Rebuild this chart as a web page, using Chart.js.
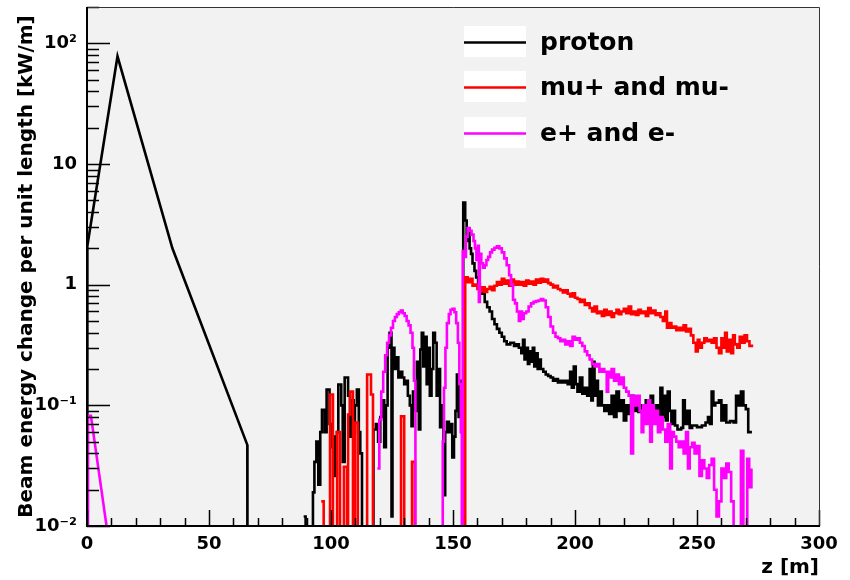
<!DOCTYPE html>
<html>
<head>
<meta charset="utf-8">
<script src="https://cdn.jsdelivr.net/npm/chart.js@4.4.0/dist/chart.umd.min.js"></script>
<style>
  html, body { margin: 0; padding: 0; background: #fff; }
</style>
</head>
<body>
<canvas id="beamChart" width="850" height="580"></canvas>
<script>
/* ── Data: [z (m), kW/m] ────────────────────────────────── */
const yTickValues = [0.01, 0.1, 1, 10, 100];
const yTickLabels = ['10\u207B\u00B2', '10\u207B\u00B9', '1', '10', '10\u00B2'];

const protonHead = [[0, 0.001], [0.15, 2.1], [12.5, 78], [35, 2.0], [65.7, 0.047], [65.75, 0.001]];

const protonHist = [
  [88.8, 0.012], [89.6, 0.001],
  [92.6, 0.019], [93.2, 0.034], [94.0, 0.05], [94.8, 0.022], [95.6, 0.06], [96.3, 0.092], [97.4, 0.06],
  [98.2, 0.135], [99.4, 0.07], [100.2, 0.045], [100.8, 0.055], [101.6, 0.026], [102.4, 0.06], [103.0, 0.149],
  [104.2, 0.1], [104.8, 0.034], [105.6, 0.17], [107.0, 0.12], [107.8, 0.055], [108.4, 0.11], [109.3, 0.06],
  [109.8, 0.1], [110.6, 0.135], [111.4, 0.06], [112.0, 0.04], [112.7, 0.001],
  [117.4, 0.063], [118.4, 0.07], [119.3, 0.05], [120.2, 0.08], [121.0, 0.11], [121.8, 0.045], [122.5, 0.1],
  [123.2, 0.3], [124.0, 0.4], [124.8, 0.012], [125.2, 0.3], [126.0, 0.2], [126.8, 0.25], [127.6, 0.17],
  [128.4, 0.19], [129.2, 0.17], [130.0, 0.15], [130.8, 0.16], [131.5, 0.12], [132.3, 0.1], [133.0, 0.067],
  [133.6, 0.13], [134.4, 0.09], [135.2, 0.23], [136.0, 0.063], [136.6, 0.29], [137.2, 0.4], [137.8, 0.21],
  [138.5, 0.37], [139.2, 0.15], [139.8, 0.3], [140.5, 0.12], [141.2, 0.2], [141.9, 0.4], [142.6, 0.33],
  [143.3, 0.12], [144.0, 0.2], [144.7, 0.066], [145.4, 0.1], [146.1, 0.018], [146.8, 0.06], [147.5, 0.073],
  [148.3, 0.06], [149.0, 0.07], [149.7, 0.037], [150.4, 0.055], [151.0, 0.09], [151.6, 0.18], [152.3, 0.08],
  [153.0, 0.16], [153.6, 0.12],
  [154.2, 4.8], [155.0, 3.4], [155.6, 2.3], [156.2, 2.9], [156.8, 2.0], [157.4, 1.8], [158.0, 1.5],
  [158.8, 1.3], [159.5, 1.15], [160.3, 1.0], [161.0, 0.93], [162.0, 0.84], [163.0, 0.72], [164.0, 0.65],
  [165.0, 0.6], [166.0, 0.52], [167.0, 0.47], [168.0, 0.43], [169.0, 0.4], [170.0, 0.37], [171.0, 0.34],
  [172.0, 0.32], [173.5, 0.33], [175.0, 0.31], [176.0, 0.32], [177.0, 0.3], [178.0, 0.27], [178.7, 0.35],
  [179.3, 0.24], [180.0, 0.3], [180.7, 0.22], [181.3, 0.28], [182.0, 0.23], [182.7, 0.3], [183.3, 0.21],
  [184.0, 0.27], [184.7, 0.2], [185.3, 0.24], [186.0, 0.2], [187.0, 0.19], [188.0, 0.18], [189.0, 0.175],
  [190.0, 0.17], [191.0, 0.16], [192.0, 0.165], [193.0, 0.155], [194.0, 0.16], [195.0, 0.155], [196.0, 0.16],
  [197.0, 0.15], [198.0, 0.19], [198.7, 0.14], [199.5, 0.21], [200.3, 0.15], [201.0, 0.13], [202.0, 0.17],
  [203.0, 0.125], [204.0, 0.14], [205.0, 0.12], [206.0, 0.2], [206.7, 0.11], [207.3, 0.23], [208.0, 0.12],
  [208.7, 0.16], [209.4, 0.1], [210.0, 0.13], [211.0, 0.1], [212.0, 0.09], [213.0, 0.1], [214.0, 0.085],
  [215.0, 0.12], [216.0, 0.08], [217.0, 0.13], [218.0, 0.09], [219.0, 0.11], [220.0, 0.075], [221.0, 0.1],
  [222.0, 0.085], [223.0, 0.12], [224.0, 0.09], [225.0, 0.1], [226.0, 0.088], [227.0, 0.1], [228.0, 0.09],
  [229.0, 0.11], [230.0, 0.085], [231.0, 0.12], [232.0, 0.08], [233.0, 0.1], [234.0, 0.075], [235.0, 0.14],
  [235.8, 0.08], [236.5, 0.12], [237.2, 0.075], [238.0, 0.13], [238.8, 0.09], [239.5, 0.07], [240.3, 0.09],
  [241.0, 0.068], [242.0, 0.063], [243.5, 0.065], [244.3, 0.11], [245.0, 0.07], [246.0, 0.09], [247.0, 0.065],
  [248.0, 0.068], [250.0, 0.066], [252.0, 0.068], [253.5, 0.072], [254.5, 0.08], [255.3, 0.07], [256.0, 0.13],
  [256.7, 0.1], [257.5, 0.105], [259.0, 0.11], [260.0, 0.075], [261.0, 0.1], [262.0, 0.072], [263.5, 0.074],
  [265.0, 0.072], [266.0, 0.12], [267.0, 0.1], [268.0, 0.13], [269.0, 0.1], [270.0, 0.093], [271.0, 0.06],
  [272.5, 0.06]
];

const muHist = [
  [96.0, 0.016], [97.0, 0.001], [99.6, 0.123], [100.8, 0.001], [102.5, 0.06], [103.7, 0.001],
  [105.3, 0.031], [106.6, 0.001], [107.0, 0.084], [107.8, 0.13], [109.0, 0.001], [109.8, 0.072], [111.0, 0.001],
  [114.8, 0.18], [116.4, 0.123], [117.2, 0.001], [128.7, 0.081], [130.0, 0.001], [133.2, 0.034], [134.4, 0.001],
  [155.0, 1.15], [156.0, 1.05], [157.0, 1.12], [158.0, 0.98], [159.0, 1.0], [160.0, 0.92], [161.0, 0.88],
  [162.0, 0.95], [163.0, 0.87], [164.0, 0.92], [165.0, 0.96], [166.0, 0.9], [167.0, 0.98], [168.0, 1.05],
  [169.0, 1.0], [170.0, 1.12], [171.0, 1.02], [172.0, 1.08], [173.0, 0.98], [174.0, 1.1], [175.0, 1.0],
  [176.0, 1.06], [177.0, 1.0], [178.0, 1.05], [179.0, 0.98], [180.0, 1.08], [181.0, 1.02], [182.0, 1.06],
  [183.0, 1.0], [184.0, 1.1], [185.0, 1.04], [186.0, 1.12], [187.0, 1.06], [188.0, 1.1], [189.0, 1.03],
  [190.0, 1.0], [191.0, 0.95], [192.0, 0.98], [193.0, 0.92], [194.0, 0.9], [195.0, 0.86], [196.0, 0.9],
  [197.0, 0.84], [198.0, 0.8], [199.0, 0.85], [200.0, 0.78], [201.0, 0.76], [202.0, 0.72], [203.0, 0.75],
  [204.0, 0.68], [205.0, 0.7], [206.0, 0.64], [207.0, 0.6], [208.0, 0.66], [209.0, 0.58], [210.0, 0.6],
  [211.0, 0.55], [212.0, 0.62], [213.0, 0.56], [214.0, 0.6], [215.0, 0.54], [216.0, 0.58], [217.0, 0.62],
  [218.0, 0.57], [219.0, 0.6], [220.0, 0.63], [221.0, 0.58], [222.0, 0.66], [223.0, 0.57], [224.0, 0.6],
  [225.0, 0.56], [226.0, 0.62], [227.0, 0.58], [228.0, 0.6], [229.0, 0.55], [230.0, 0.64], [231.0, 0.58],
  [232.0, 0.61], [233.0, 0.56], [234.0, 0.58], [235.0, 0.54], [236.0, 0.5], [237.0, 0.6], [237.7, 0.44],
  [238.5, 0.48], [239.5, 0.44], [240.5, 0.45], [241.5, 0.42], [242.5, 0.44], [243.5, 0.42], [244.5, 0.46],
  [245.5, 0.41], [246.5, 0.43], [247.5, 0.38], [248.5, 0.33], [249.5, 0.28], [250.3, 0.35], [251.0, 0.3],
  [252.0, 0.33], [253.0, 0.36], [254.0, 0.34], [255.0, 0.35], [256.0, 0.33], [257.0, 0.36], [258.0, 0.3],
  [259.0, 0.27], [260.0, 0.36], [260.8, 0.3], [261.5, 0.4], [262.2, 0.28], [263.0, 0.35], [264.0, 0.27],
  [264.8, 0.38], [265.5, 0.32], [266.5, 0.3], [267.5, 0.37], [268.5, 0.33], [269.5, 0.38], [270.5, 0.34],
  [271.5, 0.31], [272.5, 0.32]
];

const eHead = [[0.3, 0.001], [0.4, 0.082], [1.6, 0.082], [10, 0.0052]];

const eHist = [
  [119.0, 0.03], [119.8, 0.076], [120.6, 0.13], [121.4, 0.19], [122.2, 0.26], [123.0, 0.33], [123.8, 0.38],
  [124.6, 0.44], [125.4, 0.5], [126.2, 0.54], [127.0, 0.57], [127.8, 0.59], [128.6, 0.61], [129.4, 0.58],
  [130.2, 0.55], [131.0, 0.5], [131.8, 0.46], [132.6, 0.4], [133.4, 0.3], [134.0, 0.16], [134.6, 0.001],
  [145.8, 0.05], [146.3, 0.14], [146.9, 0.3], [147.5, 0.48], [148.3, 0.57], [149.0, 0.62], [149.8, 0.63],
  [150.6, 0.59], [151.3, 0.48], [152.0, 0.33], [152.6, 0.15], [153.2, 0.06], [153.6, 0.001],
  [154.0, 1.9], [154.7, 1.7], [155.3, 2.5], [156.0, 2.95], [156.8, 2.8], [157.6, 2.6], [158.4, 2.3],
  [159.0, 2.0], [159.6, 1.6], [160.2, 2.1], [160.6, 0.72], [161.0, 1.8], [161.6, 1.5], [162.3, 1.38],
  [163.0, 1.45], [163.7, 1.6], [164.4, 1.7], [165.2, 1.85], [166.0, 1.95], [167.0, 2.02], [168.0, 2.08],
  [169.0, 2.0], [170.0, 1.85], [171.0, 1.65], [172.0, 1.45], [173.0, 1.2], [173.8, 1.0], [174.6, 0.75],
  [175.4, 0.7], [176.2, 0.6], [177.0, 0.5], [177.6, 0.6], [178.3, 0.52], [179.0, 0.58], [180.0, 0.6],
  [181.0, 0.66], [182.0, 0.7], [183.0, 0.72], [184.0, 0.73], [185.0, 0.74], [186.0, 0.76], [187.0, 0.74],
  [188.0, 0.65], [189.0, 0.54], [190.0, 0.45], [191.0, 0.4], [192.0, 0.37], [193.0, 0.36], [194.0, 0.34],
  [195.0, 0.35], [196.0, 0.32], [197.0, 0.34], [198.0, 0.31], [199.0, 0.37], [200.0, 0.35], [201.0, 0.36],
  [202.0, 0.33], [203.0, 0.31], [204.0, 0.28], [205.0, 0.26], [206.0, 0.24], [207.0, 0.22], [208.0, 0.21],
  [209.0, 0.22], [210.0, 0.19], [211.0, 0.2], [212.0, 0.19], [213.0, 0.13], [213.6, 0.19], [214.3, 0.17],
  [215.0, 0.2], [216.0, 0.16], [217.0, 0.18], [218.0, 0.15], [219.0, 0.17], [220.0, 0.14], [221.0, 0.13],
  [222.0, 0.12], [223.0, 0.04], [223.8, 0.12], [224.6, 0.1], [225.5, 0.12], [226.5, 0.09], [227.3, 0.06],
  [228.0, 0.1], [229.0, 0.07], [230.0, 0.11], [230.8, 0.05], [231.5, 0.1], [232.3, 0.07], [233.0, 0.09],
  [234.0, 0.06], [235.0, 0.08], [236.0, 0.063], [237.0, 0.05], [238.0, 0.07], [239.0, 0.03], [239.7, 0.06],
  [240.5, 0.055], [241.5, 0.05], [242.5, 0.045], [243.5, 0.05], [244.5, 0.04], [245.5, 0.06], [246.3, 0.03],
  [247.0, 0.045], [248.0, 0.049], [249.0, 0.04], [250.0, 0.046], [251.0, 0.026], [252.0, 0.035], [253.0, 0.03],
  [254.0, 0.025], [255.0, 0.032], [256.0, 0.036], [257.0, 0.02], [258.0, 0.012], [259.0, 0.016], [260.0, 0.03],
  [261.0, 0.025], [262.0, 0.033], [263.0, 0.028], [264.0, 0.016], [265.0, 0.001], [268.0, 0.042], [269.0, 0.001],
  [270.6, 0.036], [271.4, 0.021], [272.3, 0.03]
];

const legendItems = [
  { label: 'proton', color: '#000000' },
  { label: 'mu+ and mu-', color: '#ff0000' },
  { label: 'e+ and e-', color: '#ff00ff' }
];

const FONT = 'DejaVu Sans';
const toXY = arr => arr.map(p => ({ x: p[0], y: p[1] }));

function series(data, color, stepped) {
    return {
        data: toXY(data),
        borderColor: color,
        borderWidth: 2.6,
        pointRadius: 0,
        tension: 0,
        stepped: stepped,
        fill: false
    };
}

/* ── ROOT-style frame, inner ticks and legend ───────────── */
const rootFrame = {
    id: 'rootFrame',
    beforeDraw(chart) {
        const { ctx, chartArea: a } = chart;
        ctx.save();
        ctx.fillStyle = '#f2f2f2';
        ctx.fillRect(a.left, a.top, a.right - a.left, a.bottom - a.top);
        ctx.restore();
    },
    afterDatasetsDraw(chart) {
        const { ctx, chartArea: a } = chart;
        const xs = chart.scales.x, ys = chart.scales.y;
        ctx.save();
        ctx.strokeStyle = '#000';
        ctx.lineWidth = 1.5;

        // y ticks (log decades + minors)
        ctx.beginPath();
        for (let d = -2; d <= 2; d++) {
            for (let k = 1; k <= 9; k++) {
                const v = k * Math.pow(10, d);
                if (v > ys.max) break;
                const py = Math.round(ys.getPixelForValue(v)) + 0.5;
                const len = k === 1 ? 23 : 12;
                ctx.moveTo(a.left, py);
                ctx.lineTo(a.left + len, py);
            }
        }
        // x ticks every 10 m
        for (let z = 0; z <= 300; z += 10) {
            const px = Math.round(xs.getPixelForValue(z)) + 0.5;
            const len = z % 50 === 0 ? 16 : 8;
            ctx.moveTo(px, a.bottom);
            ctx.lineTo(px, a.bottom - len);
        }
        ctx.stroke();

        // frame
        ctx.lineWidth = 1;
        ctx.strokeStyle = '#333';
        ctx.beginPath();
        ctx.moveTo(a.left, a.top + 0.5);
        ctx.lineTo(a.right + 0.5, a.top + 0.5);
        ctx.lineTo(a.right + 0.5, a.bottom);
        ctx.stroke();
        ctx.lineWidth = 2;
        ctx.strokeStyle = '#000';
        ctx.beginPath();
        ctx.moveTo(a.left, a.top);
        ctx.lineTo(a.left, a.bottom);
        ctx.lineTo(a.right + 1, a.bottom);
        ctx.stroke();

        // legend
        const rows = [42, 87, 133];
        ctx.font = 'bold 25px "' + FONT + '"';
        ctx.textBaseline = 'middle';
        ctx.textAlign = 'left';
        legendItems.forEach((it, i) => {
            const y = rows[i];
            ctx.fillStyle = '#fff';
            ctx.fillRect(464, y - 16, 62, 31);
            ctx.strokeStyle = it.color;
            ctx.lineWidth = 2.6;
            ctx.beginPath();
            ctx.moveTo(464, y + 0.5);
            ctx.lineTo(526, y + 0.5);
            ctx.stroke();
            ctx.fillStyle = '#000';
            ctx.fillText(it.label, 540, y + 1);
        });
        ctx.restore();
    }
};

new Chart(document.getElementById('beamChart'), {
    type: 'line',
    data: {
        datasets: [
            series(eHist, '#ff00ff', true),
            series(eHead, '#ff00ff', false),
            series(muHist, '#ff0000', true),
            series(protonHist, '#000000', true),
            series(protonHead, '#000000', false)
        ]
    },
    options: {
        responsive: false,
        animation: false,
        events: [],
        layout: { padding: { top: 7, right: 31, left: 0, bottom: 0 } },
        plugins: { legend: { display: false }, tooltip: { enabled: false } },
        scales: {
            x: {
                type: 'linear',
                min: 0,
                max: 300,
                grid: { display: false, drawTicks: false },
                border: { display: false },
                ticks: {
                    stepSize: 50,
                    padding: 8,
                    maxRotation: 0,
                    color: '#000',
                    font: { family: FONT, weight: 'bold', size: 18 }
                },
                title: {
                    display: true,
                    text: 'z [m]',
                    align: 'end',
                    color: '#000',
                    padding: { top: 0, bottom: 0 },
                    font: { family: FONT, weight: 'bold', size: 20 }
                },
                afterFit: s => { s.height = 54; s.paddingLeft = 0; s.paddingRight = 0; }
            },
            y: {
                type: 'logarithmic',
                min: 0.01,
                max: 200,
                grid: { display: false, drawTicks: false },
                border: { display: false },
                afterBuildTicks: s => { s.ticks = yTickValues.map(v => ({ value: v })); },
                ticks: {
                    padding: 10,
                    color: '#000',
                    font: { family: FONT, weight: 'bold', size: 18 },
                    callback: v => yTickLabels[yTickValues.indexOf(v)]
                },
                title: {
                    display: true,
                    text: 'Beam energy change per unit length [kW/m]',
                    color: '#000',
                    padding: { top: 15, bottom: 0 },
                    font: { family: FONT, weight: 'bold', size: 20 }
                },
                afterFit: s => { s.width = 87; s.paddingTop = 0; s.paddingBottom = 0; }
            }
        }
    },
    plugins: [rootFrame]
});
</script>
</body>
</html>
